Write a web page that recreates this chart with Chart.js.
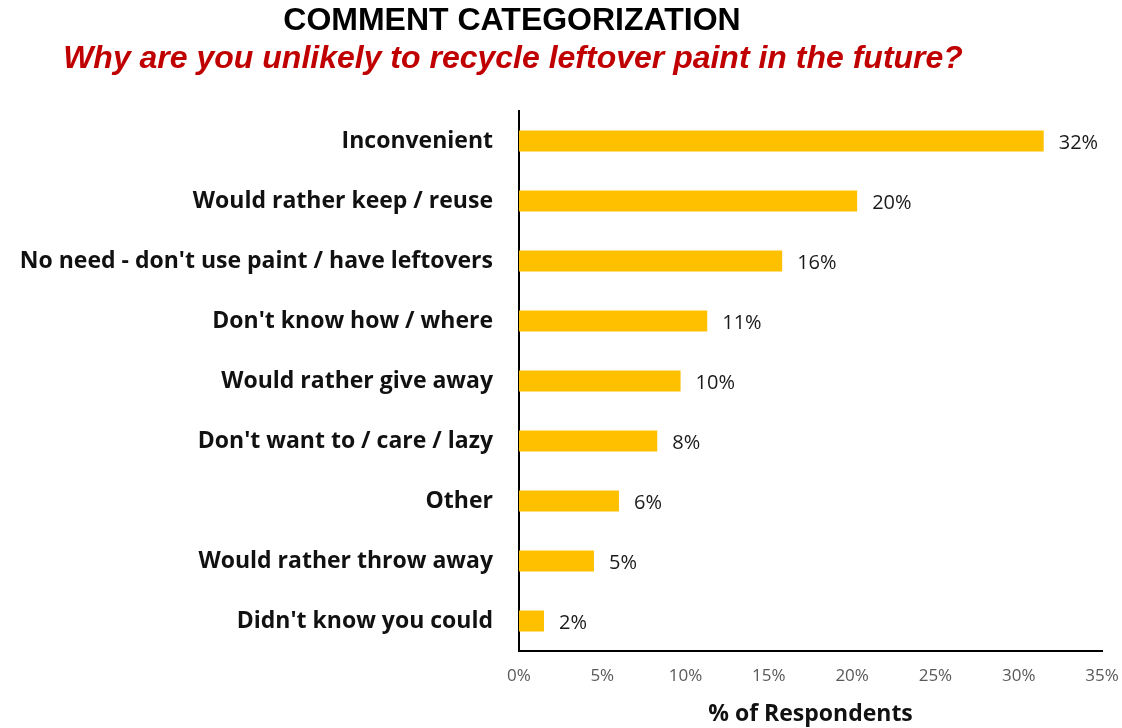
<!DOCTYPE html>
<html>
<head>
<meta charset="utf-8">
<script src="https://cdn.jsdelivr.net/npm/chart.js@4"></script>
<style>
  html, body { margin: 0; padding: 0; background: #fff; }
  canvas { display: block; }
</style>
</head>
<body>
<canvas id="grafico" width="1122" height="728"></canvas>
<script>
const categorias = [
  'Inconvenient',
  'Would rather keep / reuse',
  "No need - don't use paint / have leftovers",
  "Don't know how / where",
  'Would rather give away',
  "Don't want to / care / lazy",
  'Other',
  'Would rather throw away',
  "Didn't know you could"
]
const valores = [31.5, 20.3, 15.8, 11.3, 9.7, 8.3, 6.0, 4.5, 1.5]
const rotulos = ['32%', '20%', '16%', '11%', '10%', '8%', '6%', '5%', '2%']
const titulo = 'COMMENT CATEGORIZATION'
const subtitulo = 'Why are you unlikely to recycle leftover paint in the future?'

const fonteRotulo = '"Open Sans", Calibri, sans-serif'

// titles are drawn by hand, centred a bit left of the page like the original
const titulos = {
  id: 'titulos',
  afterDraw(chart) {
    const ctx = chart.ctx
    ctx.save()
    ctx.textAlign = 'center'
    ctx.textBaseline = 'middle'
    ctx.fillStyle = '#000'
    ctx.font = 'bold 32px "Liberation Sans", Arial, sans-serif'
    ctx.fillText(titulo, 512, 21)
    ctx.fillStyle = '#c00000'
    ctx.font = 'italic bold 32px "Liberation Sans", Arial, sans-serif'
    ctx.fillText(subtitulo, 513, 59)
    ctx.restore()
  }
}

// value labels next to each bar
const rotulosBarras = {
  id: 'rotulosBarras',
  afterDatasetsDraw(chart) {
    const ctx = chart.ctx
    const meta = chart.getDatasetMeta(0)
    ctx.save()
    ctx.font = '20px ' + fonteRotulo
    ctx.fillStyle = '#1a1a1a'
    ctx.textBaseline = 'middle'
    meta.data.forEach((barra, i) => {
      ctx.fillText(rotulos[i], barra.x + 15, barra.y + 2)
    })
    ctx.restore()
  }
}

const grafico = new Chart(document.getElementById('grafico'), {
  type: 'bar',
  data: {
    labels: categorias,
    datasets: [{
      data: valores,
      backgroundColor: '#FFC000',
      barPercentage: 0.7,
      categoryPercentage: 0.5
    }]
  },
  options: {
    indexAxis: 'y',
    responsive: false,
    animation: false,
    layout: { padding: { top: 111, right: 0, left: 0, bottom: 0 } },
    plugins: {
      legend: { display: false },
      tooltip: { enabled: false }
    },
    scales: {
      x: {
        min: 0,
        max: 35,
        ticks: {
          stepSize: 5,
          color: '#595959',
          font: { family: fonteRotulo, size: 17 },
          padding: 15,
          callback: v => v + '%'
        },
        grid: { display: false, drawTicks: false },
        border: { color: '#000', width: 2 },
        title: {
          display: true,
          text: '% of Respondents',
          color: '#111',
          font: { family: fonteRotulo, size: 23, weight: 'bold' },
          padding: { top: 7, bottom: 0 }
        },
        afterFit(escala) {
          escala.height = 77
          escala.paddingRight = 20
        }
      },
      y: {
        ticks: {
          color: '#111',
          font: { family: fonteRotulo, size: 23, weight: 'bold' },
          padding: 26
        },
        grid: { display: false, drawTicks: false },
        border: { color: '#000', width: 2 },
        afterFit(escala) { escala.width = 519 }
      }
    }
  },
  plugins: [titulos, rotulosBarras]
})
</script>
</body>
</html>
